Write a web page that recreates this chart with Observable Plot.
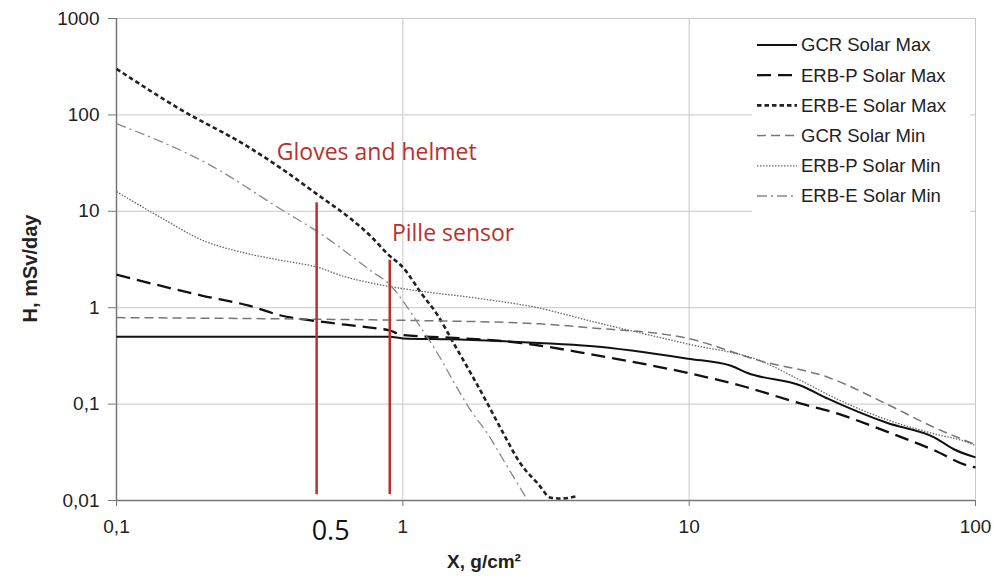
<!DOCTYPE html>
<html>
<head>
<meta charset="utf-8">
<script src="https://cdn.jsdelivr.net/npm/d3@7"></script>
<script src="https://cdn.jsdelivr.net/npm/@observablehq/plot@0.6"></script>
<style>
  html, body { margin: 0; padding: 0; background: #fff; }
</style>
</head>
<body>
<div id="chart"></div>
<script>
// ---- Data ----
const seriesNames = ["GCR Solar Max", "ERB-P Solar Max", "ERB-E Solar Max", "GCR Solar Min", "ERB-P Solar Min", "ERB-E Solar Min"];

const gcrMaxX = [0.1, 0.3, 0.5, 0.9, 1.0, 1.5, 3.0, 4.5, 9.9, 14, 16, 24.6, 30.5, 49, 72, 84, 100];
const gcrMaxY = [0.50, 0.50, 0.50, 0.50, 0.48, 0.47, 0.43, 0.40, 0.296, 0.25, 0.21, 0.155, 0.114, 0.064, 0.045, 0.034, 0.028];

const erbpMaxX = [0.1, 0.2, 0.29, 0.375, 0.51, 0.77, 0.9, 1.0, 1.45, 2.6, 4.5, 9.9, 15.2, 24.6, 32, 48, 72, 94, 100];
const erbpMaxY = [2.2, 1.33, 1.05, 0.83, 0.72, 0.62, 0.58, 0.52, 0.49, 0.43, 0.33, 0.21, 0.155, 0.101, 0.082, 0.053, 0.033, 0.023, 0.022];

const erbeMaxX = [0.1, 0.164, 0.294, 0.375, 0.51, 0.66, 0.773, 0.886, 1.01, 1.156, 1.325, 1.51, 1.73, 1.98, 2.25, 2.58, 2.96, 3.29, 3.57, 4.02];
const erbeMaxY = [300, 118, 45, 28, 14.5, 8.3, 5.5, 3.6, 2.54, 1.43, 0.83, 0.42, 0.207, 0.10, 0.049, 0.024, 0.015, 0.0107, 0.0105, 0.011];

const gcrMinX = [0.1, 0.5, 1.0, 3.0, 4.5, 9.9, 17.8, 30.5, 49, 72, 100];
const gcrMinY = [0.79, 0.76, 0.74, 0.68, 0.62, 0.48, 0.28, 0.19, 0.10, 0.057, 0.038];

const erbpMinX = [0.1, 0.143, 0.2, 0.28, 0.375, 0.51, 0.61, 0.77, 1.01, 1.87, 2.96, 4.5, 9.9, 17.8, 24.6, 32, 49, 72, 94, 100];
const erbpMinY = [16, 8.6, 5.0, 3.7, 3.1, 2.6, 2.15, 1.81, 1.57, 1.24, 1.0, 0.73, 0.42, 0.28, 0.175, 0.117, 0.069, 0.049, 0.040, 0.037];

const erbeMinX = [0.1, 0.213, 0.375, 0.51, 0.773, 0.908, 1.01, 1.156, 1.325, 1.51, 1.73, 1.98, 2.25, 2.73];
const erbeMinY = [81, 30, 10.5, 6.0, 2.42, 1.69, 1.13, 0.62, 0.333, 0.167, 0.085, 0.049, 0.026, 0.0100];

const xTicks = [0.1, 1, 10, 100];
const yTicks = [0.01, 0.1, 1, 10, 100, 1000];

const markerLabels = ["Gloves and helmet", "Pille sensor"];
const markerX = [0.5, 0.9];
const markerTop = [12.3, 3.1];
const markerBottom = [0.0115, 0.0115];
const markerTextX = [0.363, 0.916];
const markerTextY = [34, 4.95];
const extraTickLabel = "0.5";

// ---- Build table ----
const seriesXs = [gcrMaxX, erbpMaxX, erbeMaxX, gcrMinX, erbpMinX, erbeMinX];
const seriesYs = [gcrMaxY, erbpMaxY, erbeMaxY, gcrMinY, erbpMinY, erbeMinY];
const rows = [];
seriesNames.forEach((name, i) => {
  seriesXs[i].forEach((x, j) => rows.push({series: name, x, y: seriesYs[i][j]}));
});

const styles = {
  "GCR Solar Max":   {stroke: "#111", strokeWidth: 2, dash: null},
  "ERB-P Solar Max": {stroke: "#111", strokeWidth: 2.3, dash: "14,7"},
  "ERB-E Solar Max": {stroke: "#222", strokeWidth: 2.6, dash: "4.5,3"},
  "GCR Solar Min":   {stroke: "#777", strokeWidth: 1.5, dash: "9,5"},
  "ERB-P Solar Min": {stroke: "#666", strokeWidth: 1.3, dash: "1.5,1.5"},
  "ERB-E Solar Min": {stroke: "#888", strokeWidth: 1.3, dash: "10,4,2,4"}
};

const markers = markerLabels.map((label, i) => ({
  label, x: markerX[i], y1: markerBottom[i], y2: markerTop[i], tx: markerTextX[i], ty: markerTextY[i]
}));

const fmt = d => String(d).replace(".", ",");
const red = "#b8312f";
const font = "Liberation Sans, Arial, sans-serif";

const lineMarks = seriesNames.map(name => Plot.line(rows.filter(d => d.series === name), {
  x: "x", y: "y",
  stroke: styles[name].stroke,
  strokeWidth: styles[name].strokeWidth,
  strokeDasharray: styles[name].dash,
  strokeLinecap: "butt",
  strokeLinejoin: "miter",
  curve: "monotone-x"
}));

const chart = Plot.plot({
  width: 994,
  height: 578,
  marginLeft: 116,
  marginRight: 19,
  marginTop: 18,
  marginBottom: 78,
  style: {fontFamily: font, fontSize: "19px", color: "#222", background: "#fff"},
  x: {type: "log", domain: [0.1, 100]},
  y: {type: "log", domain: [0.01, 1000]},
  marks: [
    Plot.gridY(yTicks, {stroke: "#c8c8c8", strokeOpacity: 1, strokeWidth: 1}),
    Plot.gridX([1, 10, 100], {stroke: "#c8c8c8", strokeOpacity: 1, strokeWidth: 1}),
    Plot.axisY(yTicks, {tickFormat: fmt, tickSize: 8, tickPadding: 9, label: null, stroke: "#777", fontSize: 19}),
    Plot.axisX(xTicks, {tickFormat: fmt, tickSize: 6, tickPadding: 13, label: null, stroke: "#777", fontSize: 19}),
    Plot.ruleX([0.1], {stroke: "#777", strokeWidth: 1.5}),
    Plot.ruleY([0.01], {stroke: "#777", strokeWidth: 1.5}),
    ...lineMarks,
    Plot.ruleX(markers, {x: "x", y1: "y1", y2: "y2", stroke: red, strokeWidth: 2.5}),
    Plot.text(markers, {x: "tx", y: "ty", text: "label", fill: red, fontSize: 23, fontFamily: "Open Sans, sans-serif", textAnchor: "start", lineAnchor: "bottom"}),
    Plot.text([extraTickLabel], {x: d => +d, frameAnchor: "bottom", text: d => d, dx: 14, dy: 31, fontSize: 27, fontFamily: "Open Sans, sans-serif", fill: "#111", lineAnchor: "middle"}),
    Plot.text(["X, g/cm²"], {frameAnchor: "bottom", text: d => d, dx: -62, dy: 67, fontWeight: "bold", fontSize: 19, fill: "#222"}),
    Plot.text(["H, mSv/day"], {frameAnchor: "left", textAnchor: "middle", text: d => d, dx: -86, dy: 9, rotate: -90, fontWeight: "bold", fontSize: 20, fill: "#222"})
  ]
});

document.getElementById("chart").appendChild(chart);

// ---- Legend ----
const svg = d3.select(chart);
const lg = svg.append("g").attr("text-anchor", "start");
lg.append("rect").attr("x", 752).attr("y", 22).attr("width", 218).attr("height", 192).attr("fill", "#fff");
seriesNames.forEach((name, i) => {
  const y = 45 + i * 30.2;
  const s = styles[name];
  lg.append("line")
    .attr("x1", 757).attr("x2", 797).attr("y1", y).attr("y2", y)
    .attr("stroke", s.stroke).attr("stroke-width", s.strokeWidth)
    .attr("stroke-dasharray", s.dash);
  lg.append("text")
    .attr("x", 801).attr("y", y).attr("dy", "0.35em")
    .attr("text-anchor", "start")
    .attr("font-family", font).attr("font-size", 18.5).attr("fill", "#222")
    .text(name);
});
</script>
</body>
</html>
